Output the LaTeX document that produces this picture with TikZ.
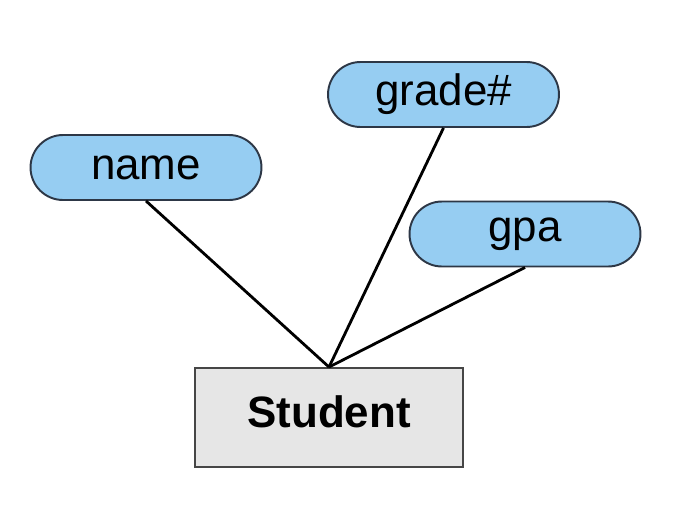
\documentclass[tikz,border=0pt]{standalone}
\usepackage{fontspec}
\setmainfont{Liberation Sans}
\definecolor{attrblue}{RGB}{150,205,242}
\definecolor{attrline}{RGB}{45,55,70}
\definecolor{entgrey}{RGB}{230,230,230}
\definecolor{entline}{RGB}{70,70,70}

\begin{document}
\begin{tikzpicture}[
  x=0.02cm, y=-0.02cm,
  font=\fontsize{25}{30}\selectfont,
  attr/.style={draw=attrline, line width=1.1pt, fill=attrblue, rounded corners=0.65cm,
    minimum width=4.62cm, minimum height=1.3cm, inner sep=0pt},
  entity/.style={draw=entline, line width=1.1pt, fill=entgrey, text depth=0.24cm,
    minimum width=5.36cm, minimum height=1.98cm, inner sep=0pt, font=\fontsize{25}{30}\selectfont\bfseries},
  link/.style={line width=1.6pt, black}
]
\useasboundingbox (0,0) rectangle (681,508);

\node[entity] (student) at (329,417.5) {Student};
\node[attr] (name) at (146,167.5) {name};
\node[attr] (grade) at (443.5,94.5) {grade\#};
\node[attr] (gpa) at (525,234) {gpa};

\draw[link] (name.south) -- (student.north);
\draw[link] (grade.south) -- (student.north);
\draw[link] (gpa.south) -- (student.north);
\end{tikzpicture}
\end{document}
